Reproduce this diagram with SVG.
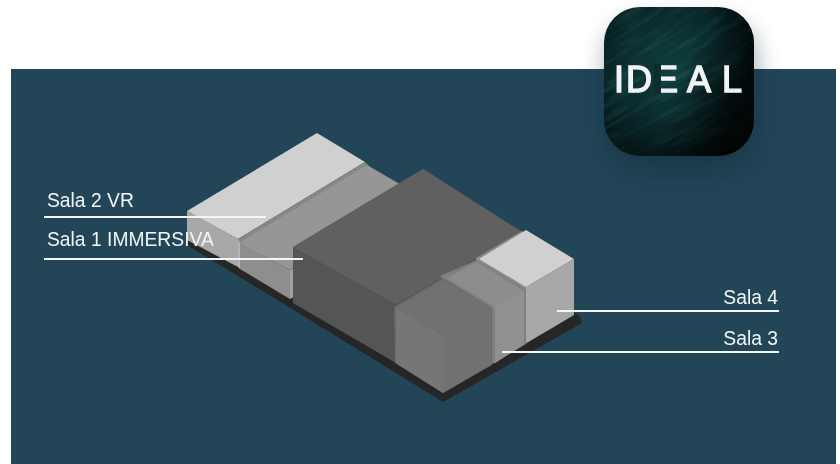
<svg xmlns="http://www.w3.org/2000/svg" width="840" height="464" viewBox="0 0 840 464">
<style>
.lbl{font-family:"Liberation Sans",Arial,sans-serif;font-size:19.3px;fill:#f2f5f6}
.ln{stroke:#f4f6f7;stroke-width:2.2;fill:none}
</style>
<defs>
<radialGradient id="lg" cx="0.45" cy="0.4" r="0.72">
<stop offset="0" stop-color="#0f3d3d"/><stop offset="0.5" stop-color="#0a2b2d"/><stop offset="1" stop-color="#030c0e"/>
</radialGradient>
<linearGradient id="dk" x1="0" y1="0" x2="1" y2="0.4">
<stop offset="0.6" stop-color="#000" stop-opacity="0"/><stop offset="1" stop-color="#000" stop-opacity="0.75"/>
</linearGradient>
<filter id="sh" x="-30%" y="-30%" width="160%" height="160%"><feGaussianBlur stdDeviation="12"/></filter>
<filter id="bl" x="-2%" y="-2%" width="104%" height="104%"><feGaussianBlur stdDeviation="0.5"/></filter>
<filter id="tb" x="-5%" y="-5%" width="110%" height="110%"><feGaussianBlur stdDeviation="0.35"/></filter>
<filter id="fur" x="0" y="0" width="100%" height="100%">
<feTurbulence type="fractalNoise" baseFrequency="0.02 0.16" numOctaves="3" seed="11"/>
<feColorMatrix values="0 0 0 0 0.1  0 0 0 0 0.38  0 0 0 0 0.38  1.4 0 0 0 -0.6"/>
</filter>
<clipPath id="lc"><rect x="604" y="7" width="150" height="149" rx="36"/></clipPath>
</defs>
<rect width="840" height="464" fill="#fff"/>
<rect x="11" y="69" width="825" height="395" fill="#224558"/>
<g id="platform"><polygon points="187,236 430,230 580,316 582,323 443,402 292,309 187,245" fill="#262626"/></g>
<g id="sala-2-vr" filter="url(#bl)">
<polygon points="187,211 238,239 238,267 187,240" fill="#a8a8a8"/>
<polygon points="187,211 317,133 365,162 238,239" fill="#d0d0d0"/>
</g>
<g id="sala-1-immersiva" filter="url(#bl)">
<polygon points="238,239 365,162 369,166 239,244" fill="#878787"/>
<polygon points="238,239 240,243 240,269 238,267" fill="#b4b4b4"/>
<polygon points="240,243 290,270 290,299 240,269" fill="#8e8e8e"/>
<polygon points="290,270 294,268 294,297 290,299" fill="#a0a0a0"/>
<polygon points="239,243 367,165 410,190 293,260 293,268 290,270" fill="#969696"/>
</g>
<g id="sala-centrale" filter="url(#bl)">
<polygon points="293,247 423,169 522,232 526,240 526,260 396,363 293,303" fill="#555555"/>
<polygon points="293,247 423,169 522,232 396,304" fill="#616161"/>
</g>
<g id="sala-4" filter="url(#bl)">
<polygon points="476,258 522,231 530,236 530,292 476,264" fill="#8a8a8a"/>
<polygon points="479,259 526,230 574,259 526,287" fill="#d0d0d0"/>
<polygon points="526,287 574,259 574,315 525,344" fill="#a8a8a8"/>
</g>
<g id="sala-3" filter="url(#bl)">
<polygon points="440,276 477,260 526,289 526,344 495,363 491,364 480,320" fill="#808080"/>
<polygon points="447,278 477,262 524,291 495,307" fill="#8d8d8d"/>
<polygon points="495,307 524,291 524,344 495,363" fill="#919191"/>
</g>
<g id="sala-cubo" filter="url(#bl)">
<polygon points="394,307 443,278 492,308 492,365 443,393 395,363" fill="#6a6a6a"/>
<polygon points="396,308 443,336 443,393 396,363" fill="#767676"/>
<polygon points="443,336 491,308 491,364 443,393" fill="#727272"/>
<polygon points="396,308 443,280 491,308 443,336" fill="#717171"/>
</g>
<g id="connectors">
<line class="ln" x1="44" y1="217" x2="266" y2="217"/>
<line class="ln" x1="44" y1="259" x2="303" y2="259"/>
<line class="ln" x1="557" y1="311" x2="779" y2="311"/>
<line class="ln" x1="502" y1="352" x2="779" y2="352"/>
</g>
<g id="labels" filter="url(#tb)">
<text class="lbl" x="47" y="207">Sala 2 VR</text>
<text class="lbl" x="47" y="246">Sala 1 IMMERSIVA</text>
<text class="lbl" x="778" y="304" text-anchor="end">Sala 4</text>
<text class="lbl" x="778" y="345" text-anchor="end">Sala 3</text>
</g>
<g id="logo">
<rect x="606" y="22" width="150" height="149" rx="36" fill="#0d2530" opacity="0.4" filter="url(#sh)"/>
<rect x="604" y="7" width="150" height="149" rx="36" fill="url(#lg)"/>
<g clip-path="url(#lc)">
<rect x="590" y="-10" width="180" height="180" filter="url(#fur)" opacity="0.3" transform="rotate(-30 679 81)"/>
<rect x="604" y="7" width="150" height="149" fill="url(#dk)"/>
</g>
<text x="614 626 654 687 722" y="92" font-family="'Liberation Sans',sans-serif" font-size="36" fill="#f2f4f4" stroke="#f2f4f4" stroke-width="1.4" filter="url(#tb)">IDEAL</text>
<rect x="654" y="64" width="7" height="30" fill="#0c2c2e"/>
</g>
</svg>
